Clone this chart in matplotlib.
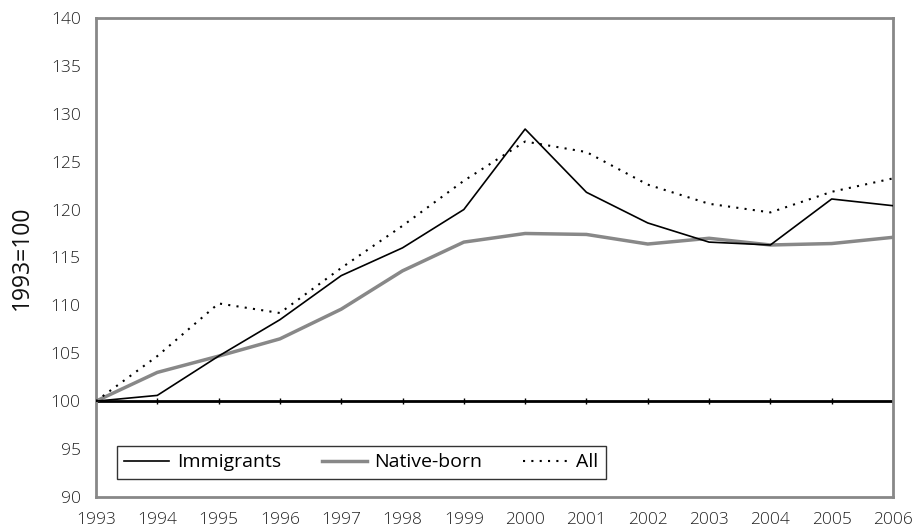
import matplotlib
matplotlib.use('Agg')
import matplotlib.pyplot as plt

plt.rcParams['font.family'] = ['Open Sans', 'DejaVu Sans']

# index values, 1993=100
years = [1993, 1994, 1995, 1996, 1997, 1998, 1999, 2000, 2001, 2002, 2003, 2004, 2005, 2006]
immigrants = [100, 100.6, 104.7, 108.5, 113.1, 116.0, 120.0, 128.4, 121.8, 118.6, 116.6, 116.3, 121.1, 120.4]
native_born = [100, 103.0, 104.7, 106.5, 109.6, 113.6, 116.6, 117.5, 117.4, 116.4, 117.0, 116.3, 116.45, 117.1]
all_workers = [100, 104.7, 110.2, 109.2, 113.9, 118.3, 123.0, 127.1, 126.0, 122.6, 120.6, 119.7, 121.85, 123.25]

fig = plt.figure(figsize=(9.14, 5.27), dpi=100)
ax = fig.add_axes([0.105, 0.057, 0.872, 0.909])

ax.axhline(100, color='black', lw=2, zorder=1)
ax.plot(years, [100] * len(years), ls='none', marker='|', ms=4, mew=1, color='black', zorder=1)

ax.plot(years, immigrants, color='black', lw=1.2, label='Immigrants', zorder=3)
ax.plot(years, native_born, color='#888888', lw=2.5, label='Native-born', zorder=2)
ax.plot(years, all_workers, color='black', lw=1.5, ls=(0, (1, 3)), label='All', zorder=3)

ax.set_xlim(1993, 2006)
ax.set_ylim(90, 140)
ax.set_xticks(years)
ax.set_yticks(range(90, 141, 5))
ax.tick_params(length=0, labelsize=12.5, colors='#222222')
ax.tick_params(axis='x', pad=11)
ax.tick_params(axis='y', pad=11)
for lab in ax.get_xticklabels() + ax.get_yticklabels():
    lab.set_fontweight('light')
for s in ax.spines.values():
    s.set_color('#888888')
    s.set_linewidth(2)

ax.set_ylabel('1993=100', fontsize=16.5, labelpad=12, color='#111111')

leg = ax.legend(loc='lower left', bbox_to_anchor=(0.026, 0.037), borderaxespad=0, ncol=3, fontsize=14,
                frameon=True, fancybox=False, edgecolor='black', handlelength=2.3,
                columnspacing=2.1, borderpad=0.4, handletextpad=0.4)
leg.get_frame().set_linewidth(1)

fig.savefig('out.png', dpi=100)
